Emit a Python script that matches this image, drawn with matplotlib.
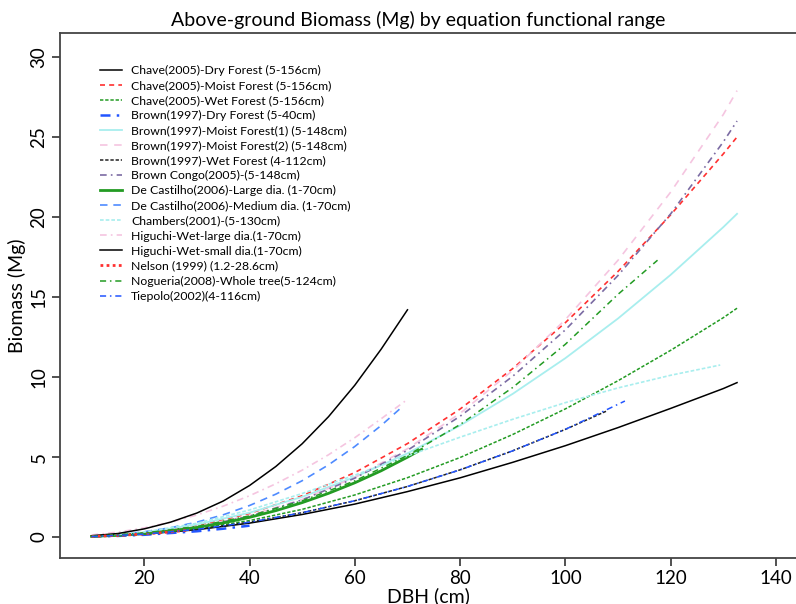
import matplotlib
matplotlib.use("Agg")
import matplotlib.pyplot as plt

plt.rcParams['font.family'] = ['Lato', 'DejaVu Sans']

# DBH grids (cm)
dbh_long = [10, 20, 30, 40, 50, 60, 70, 80, 90, 100, 110, 120, 130, 132.6]
dbh_short = [10, 15, 20, 25, 30, 35, 40, 45, 50, 55, 60, 65, 70]

# biomass (Mg)
chave_dry = [0.04, 0.19, 0.46, 0.87, 1.41, 2.06, 2.84, 3.70, 4.67, 5.71, 6.84, 8.04, 9.28, 9.65]
chave_moist = [0.04, 0.25, 0.71, 1.47, 2.58, 4.03, 5.84, 8.00, 10.53, 13.40, 16.60, 20.14, 23.95, 25.0]
chave_wet = [0.03, 0.19, 0.52, 1.03, 1.73, 2.63, 3.71, 4.97, 6.41, 8.01, 9.77, 11.67, 13.71, 14.3]
brown_dry_x = [10, 15, 20, 25, 30, 35, 40]
brown_dry = [0.03, 0.07, 0.14, 0.25, 0.36, 0.52, 0.71]
brown_moist1 = [0.04, 0.28, 0.78, 1.52, 2.51, 3.75, 5.23, 6.97, 8.95, 11.18, 13.66, 16.39, 19.37, 20.2]
brown_moist2 = [0.04, 0.23, 0.65, 1.34, 2.35, 3.73, 5.52, 7.73, 10.41, 13.59, 17.30, 21.56, 26.41, 27.9]
brown_wet_x = [10, 20, 30, 40, 50, 60, 70, 80, 90, 100, 108]
brown_wet = [0.03, 0.18, 0.48, 0.93, 1.52, 2.27, 3.16, 4.20, 5.39, 6.73, 7.90]
brown_congo = [0.03, 0.20, 0.60, 1.30, 2.32, 3.68, 5.42, 7.55, 10.05, 12.95, 16.35, 20.2, 24.7, 26.0]
castilho_large_x = [10, 15, 20, 25, 30, 35, 40, 45, 50, 55, 60, 65, 70, 72.7]
castilho_large = [0.04, 0.11, 0.22, 0.38, 0.60, 0.88, 1.23, 1.65, 2.15, 2.73, 3.39, 4.14, 4.99, 5.48]
castilho_med_x = [10, 15, 20, 25, 30, 35, 40, 45, 50, 55, 60, 65, 69]
castilho_med = [0.05, 0.15, 0.33, 0.58, 0.93, 1.39, 1.97, 2.68, 3.52, 4.51, 5.66, 6.97, 8.14]
chambers_x = [10, 20, 30, 40, 50, 60, 70, 80, 90, 100, 110, 120, 129.4]
chambers = [0.05, 0.31, 0.86, 1.69, 2.72, 3.87, 5.07, 6.24, 7.36, 8.40, 9.32, 10.11, 10.75]
higuchi_large = [0.13, 0.31, 0.57, 0.93, 1.38, 1.93, 2.58, 3.33, 4.18, 5.14, 6.21, 7.39, 8.60]
higuchi_small = [0.08, 0.22, 0.51, 0.93, 1.50, 2.25, 3.22, 4.41, 5.83, 7.52, 9.49, 11.74, 14.20]
nelson_x = [10, 15, 20, 25, 28.6]
nelson = [0.04, 0.10, 0.19, 0.32, 0.44]
nogueira_x = [10, 20, 30, 40, 50, 60, 70, 80, 90, 100, 110, 117.5]
nogueira = [0.05, 0.25, 0.66, 1.32, 2.26, 3.51, 5.10, 7.03, 9.35, 12.05, 15.17, 17.3]
tiepolo_x = [10, 20, 30, 40, 50, 60, 70, 80, 90, 100, 111.3]
tiepolo = [0.03, 0.18, 0.48, 0.93, 1.52, 2.27, 3.16, 4.20, 5.39, 6.73, 8.50]

labels = ["Chave(2005)-Dry Forest (5-156cm)",
          "Chave(2005)-Moist Forest (5-156cm)",
          "Chave(2005)-Wet Forest (5-156cm)",
          "Brown(1997)-Dry Forest (5-40cm)",
          "Brown(1997)-Moist Forest(1) (5-148cm)",
          "Brown(1997)-Moist Forest(2) (5-148cm)",
          "Brown(1997)-Wet Forest (4-112cm)",
          "Brown Congo(2005)-(5-148cm)",
          "De Castilho(2006)-Large dia. (1-70cm)",
          "De Castilho(2006)-Medium dia. (1-70cm)",
          "Chambers(2001)-(5-130cm)",
          "Higuchi-Wet-large dia.(1-70cm)",
          "Higuchi-Wet-small dia.(1-70cm)",
          "Nelson (1999) (1.2-28.6cm)",
          "Nogueria(2008)-Whole tree(5-124cm)",
          "Tiepolo(2002)(4-116cm)"]

series = [(dbh_long, chave_dry), (dbh_long, chave_moist), (dbh_long, chave_wet),
          (brown_dry_x, brown_dry), (dbh_long, brown_moist1), (dbh_long, brown_moist2),
          (brown_wet_x, brown_wet), (dbh_long, brown_congo),
          (castilho_large_x, castilho_large), (castilho_med_x, castilho_med),
          (chambers_x, chambers), (dbh_short, higuchi_large), (dbh_short, higuchi_small),
          (nelson_x, nelson), (nogueira_x, nogueira), (tiepolo_x, tiepolo)]

# colour, dash pattern, width
dashdot = (4, 2.5, 1, 2.5)
styles = [("black", None, 1.1),
          ("#FF3030", (3, 2.5), 1.2),
          ("#239B23", (2.2, 1.2), 1.1),
          ("#2255FF", dashdot, 1.8),
          ("#A8EEEE", None, 1.3),
          ("#F5C5E0", (4.5, 4), 1.2),
          ("#222222", (2.2, 1.2), 1.1),
          ("#7B6BA3", dashdot, 1.2),
          ("#239B23", None, 2.0),
          ("#4F8BFF", (4.5, 3.5), 1.2),
          ("#A8EEEE", (2.2, 1.2), 1.2),
          ("#F5C5E0", dashdot, 1.2),
          ("black", None, 1.1),
          ("#FF3030", (1, 1.2), 2.0),
          ("#239B23", dashdot, 1.1),
          ("#2255FF", dashdot, 1.1)]

fig = plt.figure(figsize=(7.96, 6.04), dpi=100)
ax = fig.add_axes([60 / 796, 46 / 604, 736 / 796, 525 / 604])

for (x, y), lab, (c, d, lw) in zip(series, labels, styles):
    line, = ax.plot(x, y, color=c, lw=lw, label=lab)
    if d is not None:
        line.set_dashes(d)

ax.set_xlim(4.0, 143.8)
ax.set_ylim(-1.31, 31.5)
ax.set_xticks([20, 40, 60, 80, 100, 120, 140])
ax.set_yticks([0, 5, 10, 15, 20, 25, 30])
ax.tick_params(direction='out', length=6, width=1.2, labelsize=13.5, color='#333333', pad=3)
for lab in ax.get_yticklabels():
    lab.set_rotation(90)
    lab.set_va('center')
ax.spines['right'].set_visible(False)
for s in ['left', 'bottom', 'top']:
    ax.spines[s].set_color('#444444')
    ax.spines[s].set_linewidth(1.3)

ax.set_xlabel("DBH (cm)", fontsize=14, labelpad=0)
ax.set_ylabel("Biomass (Mg)", fontsize=14, labelpad=3)
fig.text(418 / 796, 1 - 20 / 604, "Above-ground Biomass (Mg) by equation functional range",
         ha='center', va='center', fontsize=14)

ax.legend(loc='upper left', bbox_to_anchor=(0.055, 0.939), frameon=False,
          fontsize=8.8, handlelength=1.75, handletextpad=0.75, labelspacing=0.33,
          borderpad=0, borderaxespad=0)

fig.savefig("out.png", dpi=100)
